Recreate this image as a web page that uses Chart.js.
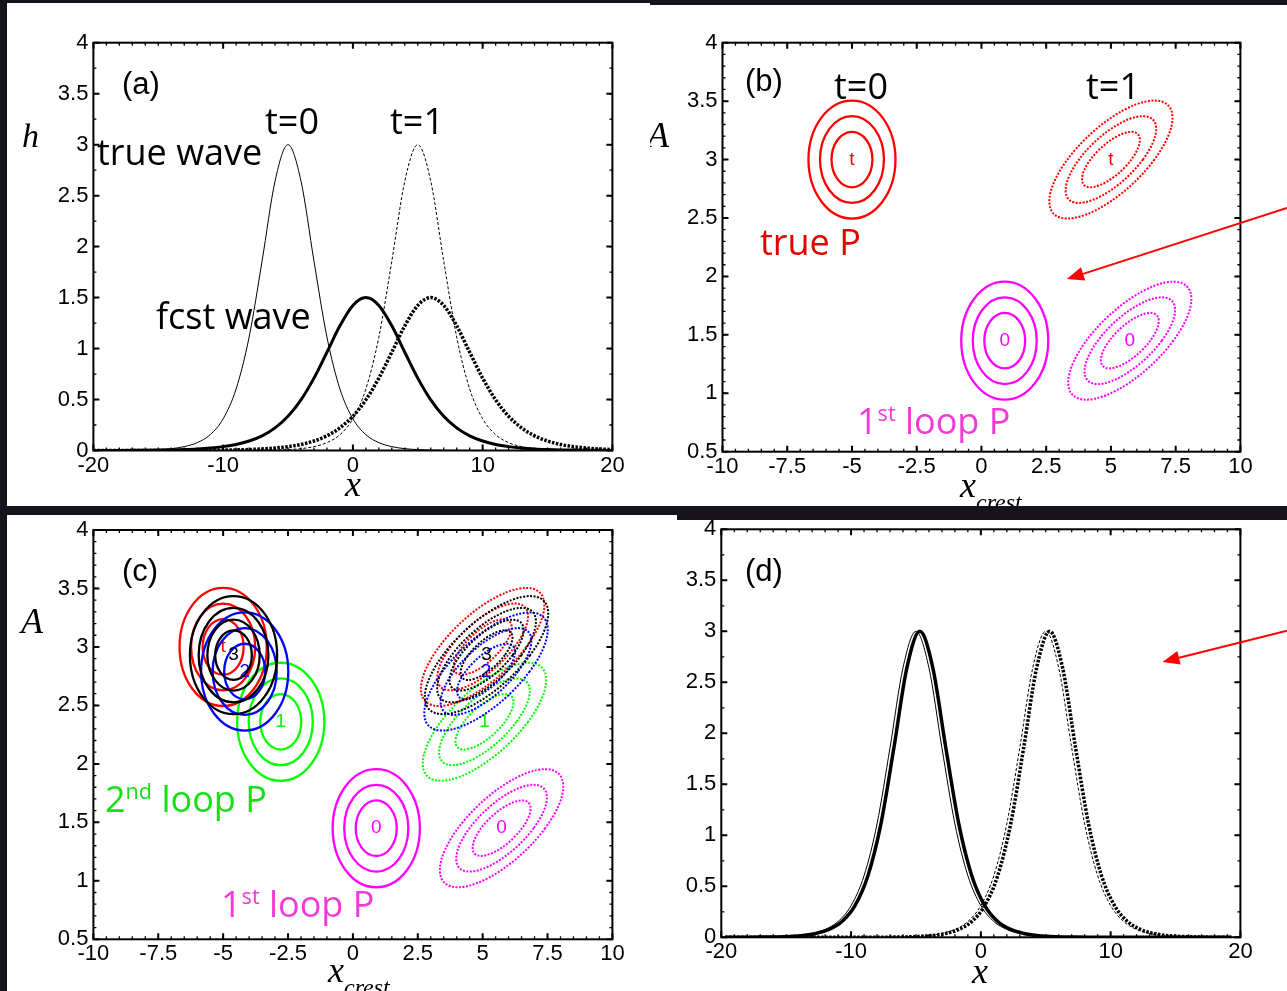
<!DOCTYPE html>
<html>
<head>
<meta charset="utf-8">
<script src="https://cdn.jsdelivr.net/npm/chart.js@4.4.1/dist/chart.umd.min.js"></script>
<style>
  html, body { margin: 0; padding: 0; }
  body { width: 1287px; height: 991px; position: relative; overflow: hidden; background: #17131b; }
  .panel { position: absolute; background: #fff; overflow: hidden; }
  .panel canvas { position: absolute; left: 0; top: 0; }
  .lbl { position: absolute; white-space: nowrap; line-height: 1; }
  .sup { font-size: 0.6em; position: relative; top: -0.6em; }
  .sub { font-size: 0.667em; position: relative; top: 0.54em; }
</style>
</head>
<body>
<div class="panel" id="pa" style="left:7px;top:3px;width:643px;height:503px"><canvas id="ca" width="643" height="503"></canvas></div>
<div class="panel" id="pb" style="left:650px;top:5px;width:637px;height:501px"><canvas id="cb" width="637" height="501"></canvas></div>
<div class="panel" id="pc" style="left:7px;top:515px;width:670px;height:476px"><canvas id="cc" width="670" height="476"></canvas></div>
<div class="panel" id="pd" style="left:677px;top:520px;width:610px;height:471px"><canvas id="cd" width="610" height="471"></canvas></div>
<script>
// wave heights h(x) (a) and (d)
const waveX = [-20, -19, -18, -17, -16, -15, -14, -13, -12, -11, -10, -9, -8, -7, -6, -5, -4, -3, -2, -1,
  0, 1, 2, 3, 4, 5, 6, 7, 8, 9, 10, 11, 12, 13, 14, 15, 16, 17, 18, 19, 20];
const trueT0 = [0, 0, 0.001, 0.002, 0.004, 0.009, 0.018, 0.038, 0.077, 0.155, 0.311, 0.604, 1.112, 1.858, 2.642,
  3, 2.642, 1.858, 1.112, 0.604, 0.311, 0.155, 0.077, 0.038, 0.018, 0.009, 0.004, 0.002, 0.001,
  0, 0, 0, 0, 0, 0, 0, 0, 0, 0, 0, 0];
const trueT1 = [0, 0, 0, 0, 0, 0, 0, 0, 0, 0, 0, 0, 0.001, 0.002, 0.004, 0.009, 0.018, 0.038, 0.077, 0.155,
  0.311, 0.604, 1.112, 1.858, 2.642, 3, 2.642, 1.858, 1.112, 0.604, 0.311, 0.155, 0.077, 0.038, 0.018,
  0.009, 0.004, 0.002, 0.001, 0, 0];
const fcstT0 = [0.0004, 0.0006, 0.001, 0.0015, 0.0024, 0.0038, 0.006, 0.0096, 0.015, 0.024, 0.038, 0.059,
  0.093, 0.144, 0.222, 0.336, 0.497, 0.71, 0.964, 1.223, 1.423, 1.5, 1.423, 1.223, 0.964, 0.71, 0.497,
  0.336, 0.222, 0.144, 0.093, 0.059, 0.038, 0.024, 0.015, 0.0096, 0.006, 0.0038, 0.0024, 0.0015, 0.001];
const fcstT1 = [0.0001, 0.0001, 0.0001, 0.0002, 0.0002, 0.0004, 0.0006, 0.001, 0.0015, 0.0024, 0.0038, 0.006,
  0.0096, 0.015, 0.024, 0.038, 0.059, 0.093, 0.144, 0.222, 0.336, 0.497, 0.71, 0.964, 1.223, 1.423, 1.5,
  1.423, 1.223, 0.964, 0.71, 0.497, 0.336, 0.222, 0.144, 0.093, 0.059, 0.038, 0.024, 0.015, 0.0096];

// analysis waves of panel (d) sit slightly right of the truth
const anaX = [-19.7, -18.7, -17.7, -16.7, -15.7, -14.7, -13.7, -12.7, -11.7, -10.7, -9.7, -8.7, -7.7, -6.7,
  -5.7, -4.7, -3.7, -2.7, -1.7, -0.7, 0.3, 1.3, 2.3, 3.3, 4.3, 5.3, 6.3, 7.3, 8.3, 9.3, 10.3, 11.3, 12.3,
  13.3, 14.3, 15.3, 16.3, 17.3, 18.3, 19.3];
const anaT0 = [0, 0.0005, 0.001, 0.002, 0.004, 0.009, 0.018, 0.038, 0.077, 0.155, 0.311, 0.604, 1.112, 1.858,
  2.642, 3, 2.642, 1.858, 1.112, 0.604, 0.311, 0.155, 0.077, 0.038, 0.018, 0.009, 0.004, 0.002, 0.001,
  0.0005, 0, 0, 0, 0, 0, 0, 0, 0, 0, 0];
const anaT1 = [0, 0, 0, 0, 0, 0, 0, 0, 0, 0, 0, 0.0005, 0.001, 0.002, 0.004, 0.009, 0.018, 0.038, 0.077, 0.155,
  0.311, 0.604, 1.112, 1.858, 2.642, 3, 2.642, 1.858, 1.112, 0.604, 0.311, 0.155, 0.077, 0.038, 0.018,
  0.009, 0.004, 0.002, 0.001, 0.0005];

// tick labels
const waveTicksX = [-20, -10, 0, 10, 20];
const waveTicksY = [0, 0.5, 1, 1.5, 2, 2.5, 3, 3.5, 4];
const crestTicksX = [-10, -7.5, -5, -2.5, 0, 2.5, 5, 7.5, 10];
const crestTicksY = [0.5, 1, 1.5, 2, 2.5, 3, 3.5, 4];

// error ellipse centres (x_crest, A), [t=0, t=1]
const truePX = [-5, 5];
const truePA = [3.0, 3.0];
const loop0PX = [0.9, 5.73];
const loop0PA = [1.45, 1.45];
const loop1PX = [-2.78, 5.07];
const loop1PA = [2.36, 2.36];
const loop2PX = [-4.17, 5.13];
const loop2PA = [2.79, 2.79];
const loop3PX = [-4.6, 5.15];
const loop3PA = [2.93, 2.93];

// contour levels, outer half sizes and the crest speed per unit A
const ringLevels = [1, 0.735, 0.47];
const ringLevels3 = [1, 0.8, 0.6, 0.42];
const ringRx = 1.68;
const ringRy = 0.505;
const crestSpeed = 10 / 3;

const framePlugin = {
  id: 'frame',
  afterDraw(chart, args, opts) {
    const { ctx, chartArea: a, scales: { x, y } } = chart;
    ctx.save();
    ctx.strokeStyle = '#000';
    ctx.lineWidth = 1.3;
    ctx.beginPath();
    const nx = Math.round((x.max - x.min) / opts.minorX);
    for (let i = 1; i < nx; i++) {
      const px = x.getPixelForValue(x.min + i * opts.minorX);
      ctx.moveTo(px, a.bottom); ctx.lineTo(px, a.bottom - 3);
      ctx.moveTo(px, a.top); ctx.lineTo(px, a.top + 3);
    }
    const ny = Math.round((y.max - y.min) / opts.minorY);
    for (let i = 1; i < ny; i++) {
      const py = y.getPixelForValue(y.min + i * opts.minorY);
      ctx.moveTo(a.left, py); ctx.lineTo(a.left + 3, py);
      ctx.moveTo(a.right, py); ctx.lineTo(a.right - 3, py);
    }
    ctx.stroke();
    ctx.lineWidth = 2;
    ctx.beginPath();
    opts.ticksX.forEach((v) => {
      const px = x.getPixelForValue(v);
      ctx.moveTo(px, a.bottom); ctx.lineTo(px, a.bottom - 6);
      ctx.moveTo(px, a.top); ctx.lineTo(px, a.top + 6);
    });
    opts.ticksY.forEach((v) => {
      const py = y.getPixelForValue(v);
      ctx.moveTo(a.left, py); ctx.lineTo(a.left + 6, py);
      ctx.moveTo(a.right, py); ctx.lineTo(a.right - 6, py);
    });
    ctx.stroke();
    ctx.strokeRect(a.left, a.top, a.right - a.left, a.bottom - a.top);

    ctx.fillStyle = '#000';
    ctx.font = '22px "Liberation Sans", Arial, sans-serif';
    ctx.textAlign = 'right';
    ctx.textBaseline = 'middle';
    opts.ticksY.forEach((v) => ctx.fillText(String(v), a.left - 5, y.getPixelForValue(v)));
    ctx.textAlign = 'center';
    ctx.textBaseline = 'top';
    opts.ticksX.forEach((v) => ctx.fillText(String(v), x.getPixelForValue(v), a.bottom + 4));
    ctx.restore();
  },
};

// draws the contour rings around each centre; t=1 rings are sheared by the crest speed
const ringPlugin = {
  id: 'rings',
  afterDatasetsDraw(chart) {
    const { ctx, scales: { x, y } } = chart;
    const px = x.getPixelForValue(1) - x.getPixelForValue(0);
    const py = y.getPixelForValue(0) - y.getPixelForValue(1);
    chart.data.datasets.forEach((ds) => {
      if (!ds.rings) return;
      ds.data.forEach((p) => {
        const cx = x.getPixelForValue(p.x);
        const cy = y.getPixelForValue(p.y);
        ctx.save();
        ctx.strokeStyle = ds.ringColor;
        ctx.lineWidth = ds.dashed ? 2 : 2.3;
        ctx.setLineDash(ds.dashed ? [2, 1.5] : []);
        ds.rings.forEach((l) => {
          ctx.save();
          ctx.translate(cx, cy);
          ctx.transform(1, 0, -ds.shear * px / py, 1, 0, 0);
          ctx.beginPath();
          ctx.ellipse(0, 0, ringRx * l * px, ringRy * l * py, 0, 0, Math.PI * 2);
          ctx.restore();
          ctx.stroke();
        });
        if (ds.mark) {
          ctx.fillStyle = ds.ringColor;
          ctx.font = '19px "Liberation Sans", Arial, sans-serif';
          ctx.textAlign = 'center';
          ctx.textBaseline = 'middle';
          ctx.fillText(ds.mark, cx, cy);
        }
        ctx.restore();
      });
    });
  },
};

const arrowPlugin = {
  id: 'arrow',
  afterDraw(chart, args, opts) {
    const { ctx, scales: { x, y } } = chart;
    const x0 = x.getPixelForValue(opts.from.x), y0 = y.getPixelForValue(opts.from.y);
    const x1 = x.getPixelForValue(opts.to.x), y1 = y.getPixelForValue(opts.to.y);
    const ang = Math.atan2(y1 - y0, x1 - x0);
    const len = 17, half = 7;
    const bx = x1 - len * Math.cos(ang), by = y1 - len * Math.sin(ang);
    ctx.save();
    ctx.strokeStyle = '#f00';
    ctx.fillStyle = '#f00';
    ctx.lineWidth = 2;
    ctx.beginPath();
    ctx.moveTo(x0, y0);
    ctx.lineTo(bx, by);
    ctx.stroke();
    ctx.beginPath();
    ctx.moveTo(x1, y1);
    ctx.lineTo(bx + half * Math.sin(ang), by - half * Math.cos(ang));
    ctx.lineTo(bx - half * Math.sin(ang), by + half * Math.cos(ang));
    ctx.closePath();
    ctx.fill();
    ctx.restore();
  },
};

function wave(xs, ys, width, dash) {
  return {
    type: 'line',
    data: xs.map((v, i) => ({ x: v, y: ys[i] })),
    borderColor: '#000',
    borderWidth: width,
    borderDash: dash || [],
    pointRadius: 0,
    cubicInterpolationMode: 'monotone',
  };
}

function rings(xs, as, t, color, mark, levels) {
  return {
    type: 'scatter',
    data: [{ x: xs[t], y: as[t] }],
    pointRadius: 0,
    rings: levels || ringLevels,
    shear: t ? crestSpeed : 0,
    dashed: t === 1,
    ringColor: color,
    mark: mark,
  };
}

function makeChart(id, datasets, pad, xr, yr, frame, arrow) {
  const plugins = [ringPlugin, framePlugin];
  if (arrow) plugins.push(arrowPlugin);
  return new Chart(document.getElementById(id), {
    type: 'scatter',
    data: { datasets: datasets },
    plugins: plugins,
    options: {
      responsive: false,
      animation: false,
      layout: { padding: pad },
      scales: {
        x: { type: 'linear', display: false, min: xr[0], max: xr[1] },
        y: { type: 'linear', display: false, min: yr[0], max: yr[1] },
      },
      plugins: {
        legend: { display: false },
        tooltip: { enabled: false },
        frame: frame,
        arrow: arrow || {},
      },
    },
  });
}

const waveFrame = { ticksX: waveTicksX, ticksY: waveTicksY, minorX: 1, minorY: 0.25 };
const crestFrame = { ticksX: crestTicksX, ticksY: crestTicksY, minorX: 0.5, minorY: 0.1 };

makeChart('ca', [
  wave(waveX, trueT0, 1),
  wave(waveX, trueT1, 1, [3, 2]),
  wave(waveX, fcstT0, 3),
  wave(waveX, fcstT1, 3.5, [2.5, 1.5]),
], { left: 86.4, top: 39.7, right: 37.6, bottom: 55.5 }, [-20, 20], [0, 4], waveFrame);

makeChart('cb', [
  rings(truePX, truePA, 0, '#f00', 't'),
  rings(truePX, truePA, 1, '#f00', 't'),
  rings(loop0PX, loop0PA, 0, '#f0f', '0'),
  rings(loop0PX, loop0PA, 1, '#f0f', '0'),
], { left: 72.5, top: 37.7, right: 46.6, bottom: 54.3 }, [-10, 10], [0.5, 4], crestFrame,
  { from: { x: 11.8, y: 2.585 }, to: { x: 3.3, y: 1.977 } });

makeChart('cc', [
  rings(loop0PX, loop0PA, 0, '#f0f', '0'),
  rings(loop0PX, loop0PA, 1, '#f0f', '0'),
  rings(loop1PX, loop1PA, 0, '#0f0', '1'),
  rings(loop1PX, loop1PA, 1, '#0f0', '1'),
  rings(truePX, truePA, 0, '#f00', 't'),
  rings(truePX, truePA, 1, '#f00', ''),
  rings(loop2PX, loop2PA, 0, '#00f', '2'),
  rings(loop2PX, loop2PA, 1, '#00f', '2'),
  rings(loop3PX, loop3PA, 0, '#000', '3', ringLevels3),
  rings(loop3PX, loop3PA, 1, '#000', '3', ringLevels3),
], { left: 86.4, top: 15, right: 64.6, bottom: 51.7 }, [-10, 10], [0.5, 4], crestFrame);

makeChart('cd', [
  wave(waveX, trueT0, 1),
  wave(waveX, trueT1, 1, [3, 2]),
  wave(anaX, anaT0, 3.5),
  wave(anaX, anaT1, 3.5, [2.5, 1.5]),
], { left: 44.3, top: 9.3, right: 46.6, bottom: 53.7 }, [-20, 20], [0, 4], waveFrame,
  { from: { x: 23.6, y: 3.006 }, to: { x: 14.0, y: 2.7 } });

// text annotations, placed by page coordinates of their baseline
const fonts = {
  open: { fam: '"Open Sans", "Noto Sans", sans-serif', asc: 0.888 },
  sans: { fam: '"Liberation Sans", Arial, sans-serif', asc: 0.8465 },
  serif: { fam: '"Liberation Serif", "Times New Roman", serif', asc: 0.8375 },
};
const panelPos = { pa: [7, 3], pb: [650, 5], pc: [7, 515], pd: [677, 520] };

function label(pid, html, x, base, font, size, color, opts) {
  const f = fonts[font];
  const d = document.createElement('div');
  d.className = 'lbl';
  d.innerHTML = html;
  d.style.left = (x - panelPos[pid][0]) + 'px';
  d.style.top = (base - f.asc * size - panelPos[pid][1]) + 'px';
  d.style.fontFamily = f.fam;
  d.style.fontSize = size + 'px';
  d.style.color = color;
  if (opts && opts.italic) d.style.fontStyle = 'italic';
  if (opts && opts.center) d.style.transform = 'translateX(-50%)';
  document.getElementById(pid).appendChild(d);
}

const magentaText = '#f23bd6';
const greenText = '#14e014';
const redText = '#e60000';
const crestLabel = 'x<span class="sub">crest</span>';

label('pa', '(a)', 122, 94, 'sans', 31, '#000');
label('pa', 't=0', 292, 135, 'open', 36, '#000', { center: true });
label('pa', 't=1', 417, 135, 'open', 36, '#000', { center: true });
label('pa', 'true wave', 97, 166, 'open', 36, '#000');
label('pa', 'fcst wave', 156, 330, 'open', 36, '#000');
label('pa', 'h', 22, 147, 'serif', 34, '#000', { italic: true });
label('pa', 'x', 353, 496, 'serif', 36, '#000', { italic: true, center: true });

label('pb', '(b)', 745, 91, 'sans', 31, '#000');
label('pb', 't=0', 861, 100, 'open', 36, '#000', { center: true });
label('pb', 't=1', 1113, 100, 'open', 36, '#000', { center: true });
label('pb', 'true P', 760, 256, 'open', 36, redText);
label('pb', '1<span class="sup">st</span> loop P', 857, 435, 'open', 36, magentaText);
label('pb', 'A', 647, 147, 'serif', 36, '#000', { italic: true });
label('pb', crestLabel, 960, 497, 'serif', 36, '#000', { italic: true });

label('pc', '(c)', 122, 581, 'sans', 31, '#000');
label('pc', 'A', 21, 633, 'serif', 36, '#000', { italic: true });
label('pc', '2<span class="sup">nd</span> loop P', 105, 813, 'open', 36, greenText);
label('pc', '1<span class="sup">st</span> loop P', 221, 918, 'open', 36, magentaText);
label('pc', crestLabel, 328, 982, 'serif', 36, '#000', { italic: true });

label('pd', '(d)', 745, 581, 'sans', 31, '#000');
label('pd', 'h', 650, 633, 'serif', 34, '#000', { italic: true });
label('pd', 'x', 980, 983, 'serif', 36, '#000', { italic: true, center: true });
</script>
</body>
</html>
